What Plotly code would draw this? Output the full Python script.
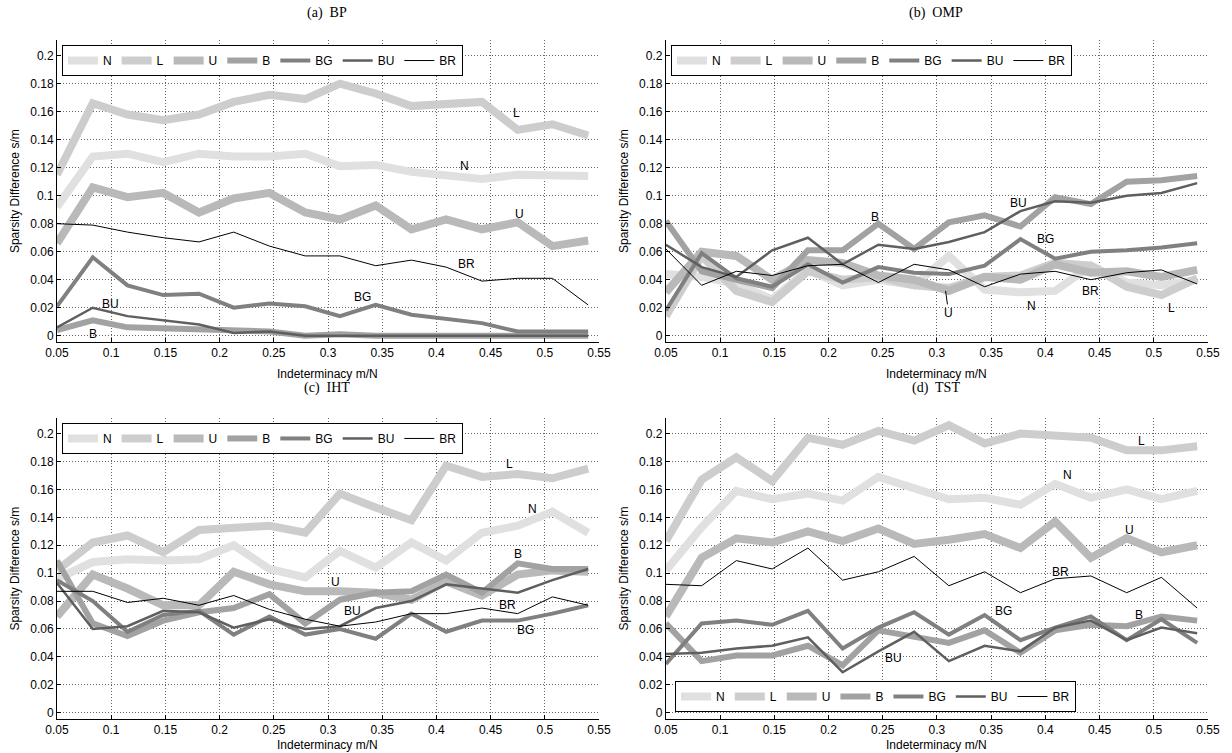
import plotly.graph_objects as go
from plotly.subplots import make_subplots

# ---------------- data ----------------
m_over_N = [0.05, 0.083, 0.115, 0.148, 0.181, 0.213, 0.246, 0.279,
            0.311, 0.344, 0.377, 0.409, 0.442, 0.475, 0.507, 0.54]
series_names = ["N", "L", "U", "B", "BG", "BU", "BR"]
panel_titles = ["(a)  BP", "(b)  OMP", "(c)  IHT", "(d)  TST"]

# (a) BP
bp_N = [0.092, 0.128, 0.130, 0.124, 0.130, 0.128, 0.128, 0.130, 0.121, 0.122, 0.117, 0.114, 0.112, 0.115, 0.114, 0.114]
bp_L = [0.115, 0.166, 0.158, 0.154, 0.158, 0.167, 0.172, 0.169, 0.180, 0.173, 0.164, 0.165, 0.167, 0.147, 0.151, 0.143]
bp_U = [0.066, 0.106, 0.099, 0.102, 0.088, 0.098, 0.102, 0.088, 0.083, 0.093, 0.076, 0.083, 0.076, 0.081, 0.064, 0.068]
bp_B = [0.004, 0.011, 0.006, 0.005, 0.005, 0.003, 0.003, 0.000, 0.001, 0.000, 0.000, 0.000, 0.000, 0.000, 0.000, 0.000]
bp_BG = [0.021, 0.056, 0.036, 0.029, 0.030, 0.020, 0.023, 0.021, 0.014, 0.022, 0.015, 0.012, 0.009, 0.003, 0.003, 0.003]
bp_BU = [0.006, 0.020, 0.014, 0.011, 0.008, 0.002, 0.003, 0.000, 0.000, 0.000, 0.000, 0.000, 0.000, 0.000, 0.000, 0.000]
bp_BR = [0.080, 0.079, 0.074, 0.070, 0.067, 0.074, 0.064, 0.057, 0.057, 0.050, 0.054, 0.049, 0.039, 0.041, 0.041, 0.022]

# (b) OMP
omp_N = [0.044, 0.042, 0.037, 0.026, 0.047, 0.036, 0.040, 0.036, 0.057, 0.033, 0.031, 0.032, 0.050, 0.038, 0.036, 0.040]
omp_L = [0.014, 0.057, 0.032, 0.024, 0.046, 0.040, 0.042, 0.036, 0.034, 0.042, 0.043, 0.052, 0.050, 0.035, 0.029, 0.041]
omp_U = [0.031, 0.060, 0.057, 0.040, 0.054, 0.052, 0.043, 0.040, 0.032, 0.042, 0.040, 0.051, 0.045, 0.046, 0.042, 0.047]
omp_B = [0.082, 0.046, 0.040, 0.034, 0.061, 0.061, 0.080, 0.062, 0.081, 0.086, 0.078, 0.099, 0.094, 0.110, 0.111, 0.114]
omp_BG = [0.018, 0.059, 0.041, 0.035, 0.051, 0.038, 0.049, 0.045, 0.044, 0.050, 0.069, 0.055, 0.060, 0.061, 0.063, 0.066]
omp_BU = [0.065, 0.049, 0.042, 0.061, 0.070, 0.051, 0.065, 0.062, 0.067, 0.074, 0.089, 0.096, 0.095, 0.100, 0.102, 0.109]
omp_BR = [0.062, 0.036, 0.046, 0.043, 0.050, 0.051, 0.038, 0.051, 0.047, 0.035, 0.044, 0.046, 0.040, 0.045, 0.047, 0.037]

# (c) IHT
iht_N = [0.096, 0.108, 0.110, 0.109, 0.110, 0.120, 0.103, 0.097, 0.116, 0.104, 0.122, 0.109, 0.129, 0.134, 0.144, 0.129]
iht_L = [0.102, 0.122, 0.127, 0.115, 0.131, 0.133, 0.134, 0.129, 0.157, 0.147, 0.138, 0.177, 0.169, 0.171, 0.168, 0.175]
iht_U = [0.069, 0.099, 0.089, 0.077, 0.077, 0.101, 0.092, 0.087, 0.087, 0.086, 0.081, 0.094, 0.084, 0.099, 0.102, 0.101]
iht_B = [0.109, 0.064, 0.055, 0.066, 0.072, 0.075, 0.085, 0.064, 0.081, 0.086, 0.087, 0.099, 0.086, 0.107, 0.103, 0.103]
iht_BG = [0.095, 0.080, 0.058, 0.070, 0.073, 0.056, 0.069, 0.056, 0.060, 0.053, 0.071, 0.058, 0.066, 0.066, 0.071, 0.077]
iht_BU = [0.093, 0.060, 0.062, 0.073, 0.072, 0.061, 0.067, 0.060, 0.062, 0.075, 0.080, 0.092, 0.089, 0.086, 0.095, 0.103]
iht_BR = [0.087, 0.087, 0.079, 0.082, 0.077, 0.084, 0.074, 0.067, 0.062, 0.065, 0.071, 0.071, 0.075, 0.071, 0.083, 0.077]

# (d) TST
tst_N = [0.102, 0.133, 0.159, 0.153, 0.157, 0.152, 0.169, 0.161, 0.153, 0.154, 0.149, 0.164, 0.154, 0.160, 0.153, 0.159]
tst_L = [0.123, 0.167, 0.183, 0.166, 0.197, 0.192, 0.202, 0.195, 0.206, 0.193, 0.200, 0.198, 0.197, 0.188, 0.188, 0.191]
tst_U = [0.069, 0.111, 0.125, 0.122, 0.130, 0.123, 0.132, 0.121, 0.124, 0.128, 0.118, 0.137, 0.111, 0.125, 0.115, 0.120]
tst_B = [0.064, 0.037, 0.041, 0.041, 0.048, 0.034, 0.059, 0.054, 0.050, 0.059, 0.043, 0.059, 0.063, 0.062, 0.069, 0.066]
tst_BG = [0.035, 0.064, 0.066, 0.063, 0.073, 0.046, 0.061, 0.072, 0.056, 0.070, 0.052, 0.061, 0.069, 0.052, 0.067, 0.050]
tst_BU = [0.042, 0.043, 0.046, 0.048, 0.054, 0.029, 0.044, 0.058, 0.037, 0.048, 0.044, 0.061, 0.066, 0.052, 0.061, 0.057]
tst_BR = [0.092, 0.091, 0.109, 0.103, 0.118, 0.095, 0.101, 0.112, 0.091, 0.101, 0.086, 0.096, 0.098, 0.086, 0.097, 0.075]

panels = [
    [bp_N, bp_L, bp_U, bp_B, bp_BG, bp_BU, bp_BR],
    [omp_N, omp_L, omp_U, omp_B, omp_BG, omp_BU, omp_BR],
    [iht_N, iht_L, iht_U, iht_B, iht_BG, iht_BU, iht_BR],
    [tst_N, tst_L, tst_U, tst_B, tst_BG, tst_BU, tst_BR],
]

# ---------------- styles ----------------
line_colors = ["#e0e0e0", "#cdcdcd", "#b9b9b9", "#a2a2a2", "#808080", "#5f5f5f", "#000000"]
line_widths = [8, 8, 8, 6, 4, 2.5, 1]

# in-plot series labels: (text, x, y)
series_labels = [
    [("L", 0.474, 0.159), ("N", 0.426, 0.121), ("U", 0.477, 0.087), ("BR", 0.428, 0.051),
     ("BG", 0.332, 0.028), ("BU", 0.099, 0.023), ("B", 0.083, 0.001)],
    [("B", 0.243, 0.085), ("BU", 0.375, 0.095), ("BG", 0.40, 0.069), ("BR", 0.442, 0.032),
     ("N", 0.387, 0.021), ("L", 0.516, 0.020)],
    [("L", 0.467, 0.178), ("N", 0.489, 0.146), ("B", 0.475, 0.114), ("U", 0.307, 0.094),
     ("BU", 0.323, 0.073), ("BR", 0.466, 0.077), ("BG", 0.482, 0.059)],
    [("L", 0.489, 0.195), ("N", 0.420, 0.170), ("U", 0.478, 0.131), ("BR", 0.414, 0.101),
     ("BG", 0.361, 0.073), ("B", 0.486, 0.070), ("BU", 0.260, 0.039)],
]

fig = make_subplots(rows=2, cols=2)
cells = [(1, 1), (1, 2), (2, 1), (2, 2)]
legend_ids = ["legend", "legend2", "legend3", "legend4"]

for p, (r, c) in enumerate(cells):
    for s, name in enumerate(series_names):
        fig.add_trace(go.Scatter(
            x=m_over_N, y=panels[p][s], mode="lines", name=name,
            line=dict(color=line_colors[s], width=line_widths[s]),
            legend=legend_ids[p], hoverinfo="skip"), row=r, col=c)

xdom = [[0, 0.4709], [0.529, 1.0]]
ydom = [[0.5552, 1.0], [0.0, 0.4433]]
axfont = dict(family="Liberation Sans, Arial, sans-serif", size=12, color="#000")
grid = dict(showgrid=True, gridcolor="#666", griddash="1px,2px", gridwidth=1)
for p, (r, c) in enumerate(cells):
    fig.update_xaxes(row=r, col=c, domain=xdom[c - 1], range=[0.05, 0.55], tick0=0.05, dtick=0.05,
                     showline=True, linecolor="#000", linewidth=1, mirror=False,
                     ticks="inside", ticklen=4, tickcolor="#000", tickfont=axfont,
                     zeroline=False, **grid)
    fig.update_yaxes(row=r, col=c, domain=ydom[r - 1], range=[-0.0045, 0.2112], tick0=0, dtick=0.02,
                     showline=True, linecolor="#000", linewidth=1, mirror=False,
                     ticks="inside", ticklen=4, tickcolor="#000", tickfont=axfont,
                     zeroline=False, **grid)

annotations = []
title_pos = [(0.235, 1.040), (0.764, 1.040), (0.235, 0.4875), (0.764, 0.4875)]
xlab_pos = [(0.235, 0.5085), (0.764, 0.5085), (0.235, -0.0383), (0.764, -0.0383)]
ylab_pos = [(-0.0364, 0.7776), (0.4926, 0.7776), (-0.0364, 0.2217), (0.4926, 0.2217)]
for p in range(4):
    annotations.append(dict(text=panel_titles[p], x=title_pos[p][0], y=title_pos[p][1],
                            xref="paper", yref="paper", showarrow=False,
                            xanchor="center", yanchor="middle",
                            font=dict(family="Liberation Serif, Times New Roman, serif", size=14, color="#000")))
    annotations.append(dict(text="Indeterminacy m/N", x=xlab_pos[p][0], y=xlab_pos[p][1],
                            xref="paper", yref="paper", showarrow=False,
                            xanchor="center", yanchor="middle", font=axfont))
    annotations.append(dict(text="Sparsity Difference s/m", x=ylab_pos[p][0], y=ylab_pos[p][1],
                            xref="paper", yref="paper", showarrow=False, textangle=-90,
                            xanchor="center", yanchor="middle", font=axfont))
    xr = "x" if p == 0 else "x%d" % (p + 1)
    yr = "y" if p == 0 else "y%d" % (p + 1)
    for (t, lx, ly) in series_labels[p]:
        annotations.append(dict(text=t, x=lx, y=ly, xref=xr, yref=yr, showarrow=False, font=axfont))

# U label with leader line in (b)
annotations.append(dict(text="U", x=0.308, y=0.032, xref="x2", yref="y2", showarrow=True,
                        arrowhead=0, arrowwidth=1, arrowcolor="#000", ax=3, ay=22, font=axfont))

leg_common = dict(orientation="h", bgcolor="#fff", bordercolor="#000", borderwidth=1,
                  font=axfont, xref="paper", yref="paper", itemwidth=30,
                  tracegroupgap=0, itemclick=False, itemdoubleclick=False)
fig.update_layout(
    width=1232, height=753,
    margin=dict(l=57, r=22, t=40, b=34),
    paper_bgcolor="#fff", plot_bgcolor="#fff",
    annotations=annotations,
    legend=dict(x=0.0043, y=0.9926, xanchor="left", yanchor="top", **leg_common),
    legend2=dict(x=0.5334, y=0.9926, xanchor="left", yanchor="top", **leg_common),
    legend3=dict(x=0.0043, y=0.436, xanchor="left", yanchor="top", **leg_common),
    legend4=dict(x=0.537, y=0.0103, xanchor="left", yanchor="bottom", **leg_common),
)

# remove the default 8px page margin so the figure fills the window exactly
fig.write_html("out.html", config={"displayModeBar": False},
               post_script="document.body.style.margin='0';")
